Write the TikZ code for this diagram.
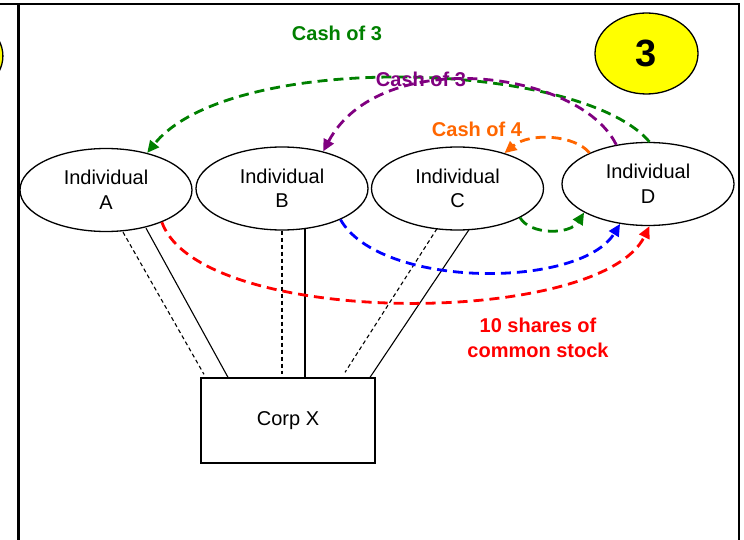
\documentclass[tikz,border=0pt]{standalone}
\usepackage{fontspec}
\setmainfont{Liberation Sans}
\usetikzlibrary{shapes.geometric,arrows.meta}
\definecolor{cgreen}{RGB}{0,128,0}
\definecolor{cpurple}{RGB}{128,0,128}
\definecolor{corange}{RGB}{255,102,0}
\definecolor{cblue}{RGB}{0,0,255}
\definecolor{cred}{RGB}{255,0,0}
\definecolor{cyellow}{RGB}{255,255,0}
\tikzset{
  person/.style={ellipse, draw, line width=1.3pt, minimum width=172pt, minimum height=83pt, inner sep=0pt, align=center, font=\fontsize{20}{24.5}\selectfont},
  corp/.style={rectangle, draw, line width=1.3pt, minimum width=174pt, minimum height=85pt, inner sep=0pt, font=\fontsize{20}{24}\selectfont},
  badge/.style={ellipse, draw, fill=cyellow, line width=1.3pt, minimum width=103pt, minimum height=81pt, inner sep=0pt, font=\fontsize{38}{40}\selectfont\bfseries},
  flow/.style={line width=2.8pt, dash pattern=on 10pt off 6pt, -{Triangle[length=12pt,width=11pt]}},
  own/.style={line width=1.1pt},
  ownd/.style={line width=1.1pt, dash pattern=on 4pt off 3pt},
  lbl/.style={font=\fontsize{20}{25}\selectfont\bfseries, align=center, inner sep=0pt},
  frame/.style={line width=2.2pt}
}
\begin{document}
\begin{tikzpicture}[x=1pt,y=-1pt]
\useasboundingbox (0,0) rectangle (744,540);
\clip (0,0) rectangle (744,540);
% frame
\coordinate (f1) at (0,4);
\coordinate (f2) at (739,4);
\coordinate (f3) at (739,541);
\coordinate (f4) at (18.5,4);
\coordinate (f5) at (18.5,541);
\draw[frame] (f1) -- (f2) -- (f3);
\draw[frame] (f4) -- (f5);
% badges
\node[badge] (prev) at (-48.6,56) {};
\node[badge] (num) at (646.5,53.5) {3};
% nodes
\node[person] (A) at (106,190) {Individual\\A};
\node[person] (B) at (282,188.5) {Individual\\B};
\node[person] (C) at (457.5,188.5) {Individual\\C};
\node[person] (D) at (648,184) {Individual\\D};
\node[corp] (X) at (288,420.5) {Corp X};
% ownership lines
\draw[ownd] ([xshift=17pt]A.south) -- ([xshift=-84pt,yshift=3pt]X.north);
\draw[own] ([xshift=40pt,yshift=4pt]A.south) -- ([xshift=-60pt]X.north);
\draw[ownd] (B.south) -- ([xshift=-6pt,yshift=3pt]X.north);
\draw[own] ([xshift=23pt,yshift=3pt]B.south) -- ([xshift=17pt]X.north);
\draw[ownd] ([xshift=-20.5pt,yshift=2pt]C.south) -- ([xshift=57pt,yshift=5pt]X.north);
\draw[own] ([xshift=11.5pt,yshift=1pt]C.south) -- ([xshift=82pt]X.north);
% cash flows
\draw[flow, cgreen] (D.88) .. controls (580,60) and (230,50) .. (A.42);
\draw[flow, cpurple] (D.129) .. controls (580,70) and (380,45) .. (B.42);
\draw[flow, corange] (D.152) .. controls (575,135) and (530,132) .. (C.37);
\draw[flow, cgreen] (C.-25) .. controls (530,235) and (570,235) .. (D.204);
\draw[flow, cblue] (B.-28) .. controls (380,289) and (580,289) .. (D.235);
\draw[flow, cred] (A.-30) .. controls (200,328) and (600,328) .. (D.-88);
% labels
\node[lbl, text=cgreen] (l1) at (337,33) {Cash of 3};
\node[lbl, text=cpurple] (l2) at (421,79) {Cash of 3};
\node[lbl, text=corange] (l3) at (477,129) {Cash of 4};
\node[lbl, text=cred] (l4) at (538,338) {10 shares of\\common stock};
\end{tikzpicture}
\end{document}
